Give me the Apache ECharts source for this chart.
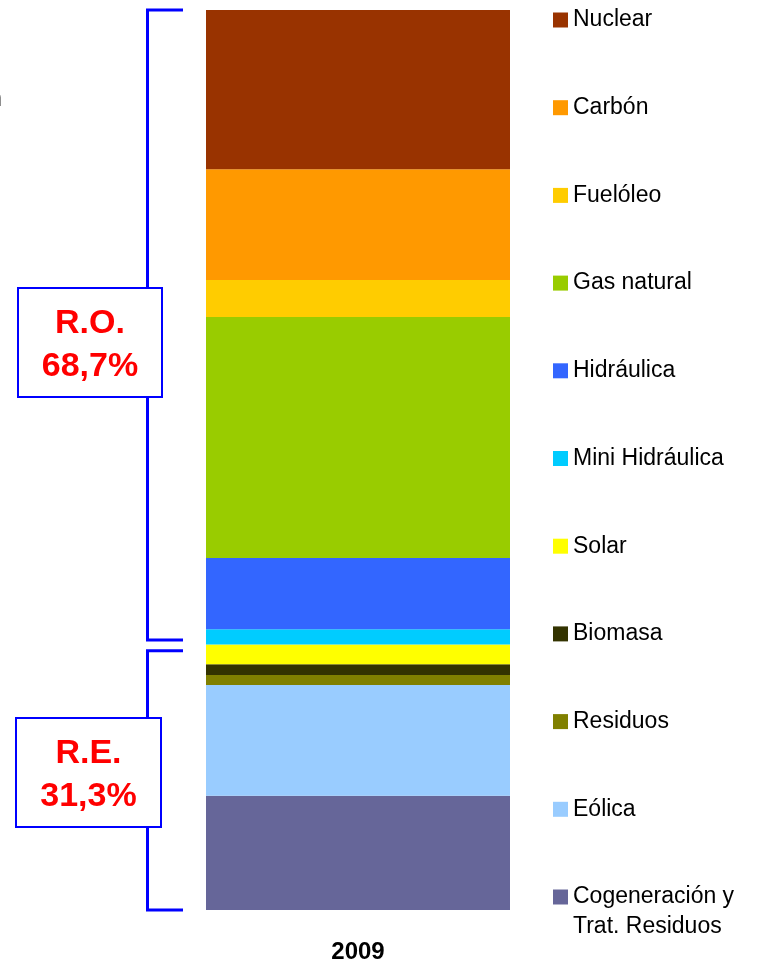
<!DOCTYPE html>
<html>
<head>
<meta charset="utf-8">
<script src="https://cdn.jsdelivr.net/npm/echarts@6/dist/echarts.min.js"></script>
<style>
  html, body { margin: 0; padding: 0; background: #fff; }
  #chart { width: 757px; height: 965px; }
</style>
</head>
<body>
<div id="chart"></div>
<script>
// data, bottom of the stack first
var years = ['2009']
var sources = ['Cogeneración y Trat. Residuos', 'Eólica', 'Residuos', 'Biomasa', 'Solar',
  'Mini Hidráulica', 'Hidráulica', 'Gas natural', 'Fuelóleo', 'Carbón', 'Nuclear']
var shares = [12.7, 12.3, 1.1, 1.2, 2.2, 1.7, 7.9, 26.8, 4.1, 12.3, 17.7]
var colors = ['#666699', '#99CCFF', '#808000', '#333300', '#FFFF00',
  '#00CCFF', '#3366FF', '#99CC00', '#FFCC00', '#FF9900', '#993300']
var groupNames = ['R.O.', 'R.E.']
var groupShares = ['68,7%', '31,3%']
var groupRanges = [[30, 100], [0, 28.8]]

var FONT = '"Liberation Sans", Arial, sans-serif'

var series = sources.map(function (name, i) {
  return {
    name: name,
    type: 'bar',
    stack: 'mix',
    barWidth: '100%',
    itemStyle: { color: colors[i] },
    emphasis: { disabled: true },
    data: [shares[i]]
  }
})

var option = {
  animation: false,
  backgroundColor: '#fff',
  grid: { left: 206, right: 247, top: 10, bottom: 55 },
  xAxis: {
    type: 'category',
    data: years,
    axisLine: { show: false },
    axisTick: { show: false },
    axisLabel: {
      margin: 30,
      color: '#000',
      fontSize: 24,
      fontWeight: 'bold',
      fontFamily: FONT
    }
  },
  yAxis: {
    type: 'value',
    min: 0,
    max: 100,
    show: false
  },
  legend: {
    orient: 'vertical',
    left: 553,
    top: -34,
    height: 1400,
    padding: 0,
    itemGap: -20.3,
    itemWidth: 15,
    itemHeight: 15,
    icon: 'rect',
    selectedMode: false,
    data: sources.slice().reverse(),
    // empty first/last lines keep every item the same height and the icon on the first text line
    formatter: function (name) {
      return '\n' + name.replace(' Trat.', '\nTrat.') + (name.indexOf('Trat.') < 0 ? '\n' : '')
    },
    textStyle: {
      color: '#000',
      fontSize: 23,
      fontFamily: FONT,
      lineHeight: 30,
      padding: [0, 0, 18, 0]
    }
  },
  series: series
}

var chart = echarts.init(document.getElementById('chart'))
chart.setOption(option)

// brackets and boxes for R.O. / R.E.
var boxes = [
  { x: 18, y: 288, w: 144, h: 109 },
  { x: 16, y: 718, w: 145, h: 109 }
]
var graphics = [{
  type: 'text',
  style: { text: 'n', x: 2, y: 100, align: 'right', verticalAlign: 'middle', font: '23px ' + FONT, fill: '#333' }
}]
groupRanges.forEach(function (r, i) {
  var yTop = chart.convertToPixel({ yAxisIndex: 0 }, r[1])
  var yBot = chart.convertToPixel({ yAxisIndex: 0 }, r[0])
  graphics.push({
    type: 'polyline',
    shape: { points: [[183, yTop], [147.5, yTop], [147.5, yBot], [183, yBot]] },
    style: { stroke: '#0000FF', lineWidth: 3, fill: null }
  })
  var b = boxes[i]
  graphics.push({
    type: 'rect',
    shape: { x: b.x, y: b.y, width: b.w, height: b.h },
    style: { fill: '#fff', stroke: '#0000FF', lineWidth: 2 }
  })
  graphics.push({
    type: 'text',
    style: {
      text: groupNames[i] + '\n' + groupShares[i],
      x: b.x + b.w / 2,
      y: b.y + b.h / 2 + 3,
      align: 'center',
      verticalAlign: 'middle',
      font: 'bold 34px ' + FONT,
      lineHeight: 43,
      fill: '#FF0000'
    }
  })
})
chart.setOption({ graphic: graphics })
</script>
</body>
</html>
